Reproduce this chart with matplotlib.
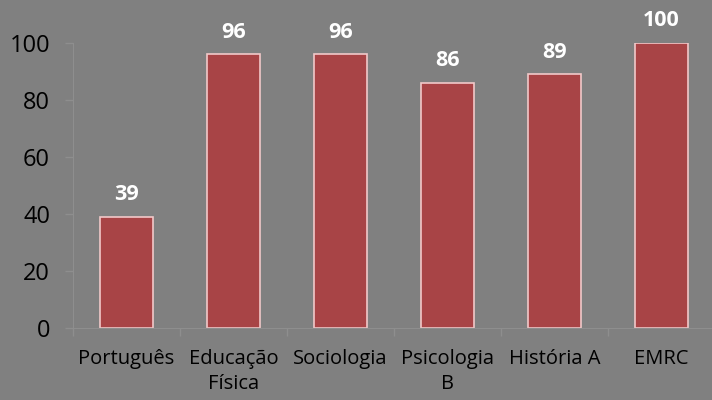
import matplotlib.pyplot as plt
import numpy as np

# Data
categories = ["Português", "Educação\nFísica", "Sociologia", "Psicologia\nB", "História A", "EMRC"]
values = [39, 96, 96, 86, 89, 100]
yticks = [0, 20, 40, 60, 80, 100]

plt.rcParams['font.family'] = ['Open Sans', 'DejaVu Sans']

bg = "#808080"
fig = plt.figure(figsize=(7.12, 4.0), dpi=100, facecolor=bg)
ax = fig.add_axes([73/712, 1-328/400, 642/712, 285/400])
ax.set_facecolor(bg)

x = np.arange(len(categories))
ax.bar(x, values, width=0.49, color="#A84446", edgecolor="#F2C9C9", linewidth=1.2)

for xi, v in zip(x, values):
    ax.annotate(str(v), (xi, v), xytext=(0, 16), textcoords="offset points",
                ha="center", va="center", color="white",
                fontsize=15.5, fontweight="bold", annotation_clip=False)

ax.set_xlim(-0.5, len(categories) - 0.5)
ax.set_ylim(0, 100)
ax.set_yticks(yticks)
ax.set_yticklabels([str(t) for t in yticks], fontsize=17)

ax.set_xticks(x)
ax.set_xticklabels(categories, fontsize=14.5, linespacing=1.35)
ax.tick_params(axis="x", length=0, pad=15)
ax.set_xticks(np.arange(len(categories) + 1) - 0.5, minor=True)
ax.tick_params(axis="x", which="minor", length=5.5, color="#8e8e8e", width=1)
ax.tick_params(axis="y", length=5.5, color="#8e8e8e", width=1, pad=11)

for s in ["top", "right"]:
    ax.spines[s].set_visible(False)
for s in ["left", "bottom"]:
    ax.spines[s].set_color("#8e8e8e")

fig.savefig("out.png", dpi=100, facecolor=bg)
